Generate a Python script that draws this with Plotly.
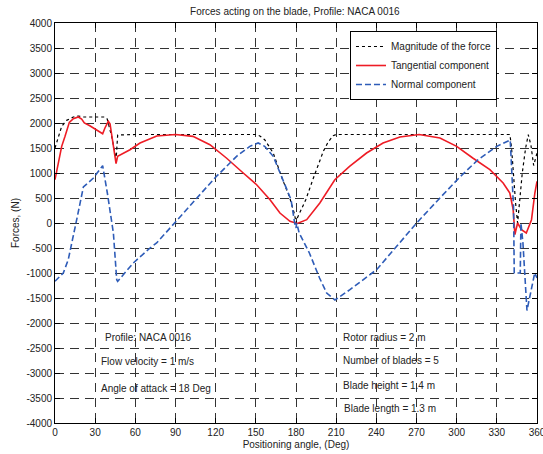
import plotly.graph_objects as go

# ---------------- data ----------------
mag_angle = [0, 2.5, 5, 8.7, 13.7, 17.4, 21, 30, 37, 39, 42.3, 44.8, 45.6, 46.8, 60,
             150.5, 153, 156.6, 160, 163, 170, 175, 179, 180, 181, 187.3, 193, 197, 200.4,
             204, 207.8, 210, 339.8, 341, 342.3, 344, 345.5, 347, 349, 351.5, 353.5, 355.5,
             357.5, 360]
mag_force = [1500, 1733, 1933, 2053, 2120, 2140, 2120, 2120, 2120, 2080, 1733, 1400, 1250, 1760, 1770,
             1770, 1740, 1666, 1530, 1400, 866, 533, 166, 0, 100, 466, 900, 1200, 1433,
             1620, 1746, 1770, 1770, 1500, 1000, 400, 0, 400, 1000, 1500, 1766, 1550,
             1150, 1400]

tan_angle = [0, 2.5, 5, 7.5, 10.7, 13.7, 17.4, 19.9, 21.9, 26, 31, 35.6, 37.3, 39.8, 41.1, 43.1,
             44.8, 45.6, 46.8, 56, 63.5, 71, 76, 90, 103, 115.7, 128, 140.6, 150.6, 160.6, 168,
             175.5, 181, 188, 197.8, 209, 220, 232.7, 245, 257.6, 272, 287.5, 300, 312, 324.8,
             334.7, 339.7, 342.2, 343.5, 345.5, 348.4, 352, 355.9, 358.4, 360]
tan_force = [866, 1233, 1533, 1733, 2013, 2086, 2120, 2080, 2000, 1946, 1866, 1786, 1900, 2033, 1986, 1666,
             1333, 1186, 1333, 1466, 1600, 1690, 1740, 1770, 1733, 1566, 1300, 1000, 766, 466, 200,
             33, -10, 66, 400, 866, 1133, 1400, 1600, 1720, 1770, 1700, 1533, 1300, 1066,
             800, 600, 266, -233, 0, -133, -200, 66, 600, 833]

nor_angle = [0, 6.2, 9.9, 13.2, 16.2, 21.2, 28.7, 35.6, 39.1, 43.6, 46.1, 46.8, 58.5, 71, 75.9,
             89.3, 103, 119.4, 135.6, 145.5, 151.7, 156.6, 163, 170, 176.3, 179, 180, 180.5,
             182.4, 190, 197.6, 202.9, 209.1, 220.3, 240.2, 255.2, 270.1, 287.5, 302.4, 316,
             330, 340, 342.5, 343, 347.5, 348, 349.5, 352.5, 358.3, 360]
nor_force = [-1166, -1000, -733, -333, 66, 720, 900, 1146, 600, -200, -1133, -1166, -800, -500, -400,
             0, 400, 900, 1333, 1533, 1600, 1533, 1333, 866, 466, 0, -100, 0,
             -200, -600, -1100, -1400, -1540, -1333, -933, -466, 0, 500, 920, 1266,
             1533, 1660, 300, -1000, -1000, 0, -400, -1750, -1000, -1100]

x_ticks = list(range(0, 361, 30))
y_ticks = list(range(-4000, 4001, 500))

notes_left = ["Profile: NACA 0016", "Flow velocity = 1 m/s", "Angle of attack = 18 Deg"]
notes_left_x = [36.2, 32.9, 32.9]
notes_left_y = [-2280, -2767, -3307]
notes_right = ["Rotor radius = 2 m", "Number of blades = 5", "Blade height = 1.4 m", "Blade length = 1.3 m"]
notes_right_x = [213.4, 213.4, 213.8, 214.6]
notes_right_y = [-2280, -2747, -3240, -3707]

FONT = "Liberation Sans, Arial, sans-serif"

fig = go.Figure()
fig.add_trace(go.Scatter(x=mag_angle, y=mag_force, mode="lines", name="Magnitude of the force",
                         line=dict(color="black", width=1.2, dash="dot")))
fig.add_trace(go.Scatter(x=tan_angle, y=tan_force, mode="lines", name="Tangential component",
                         line=dict(color="#ee1c25", width=1.6)))
fig.add_trace(go.Scatter(x=nor_angle, y=nor_force, mode="lines", name="Normal component",
                         line=dict(color="#2e5cb8", width=1.6, dash="6px,3px")))

annotations = []
for t, x, y in zip(notes_left + notes_right, notes_left_x + notes_right_x, notes_left_y + notes_right_y):
    annotations.append(dict(text=t, x=x, y=y, xref="x", yref="y", xanchor="left", yanchor="middle",
                            showarrow=False, font=dict(family=FONT, size=10, color="#222")))

axis_common = dict(showline=True, linecolor="black", linewidth=1, mirror="allticks",
                   ticks="inside", ticklen=5, tickcolor="black", showgrid=True,
                   gridcolor="#333", gridwidth=1, griddash="9px,6px", zeroline=False,
                   ticklabeloverflow="allow",
                   tickfont=dict(family=FONT, size=10, color="#222"))

fig.update_layout(
    width=543, height=454,
    margin=dict(l=55, r=6, t=23, b=31),
    paper_bgcolor="white", plot_bgcolor="white",
    font=dict(family=FONT, size=10, color="#222"),
    title=dict(text="Forces acting on the blade, Profile: NACA 0016", x=0.543, xanchor="center",
               y=0.974, yanchor="middle", font=dict(family=FONT, size=10, color="#222")),
    xaxis=dict(range=[0, 360], tickvals=x_ticks, ticktext=[str(v) for v in x_ticks],
               title=dict(text="Positioning angle, (Deg)", standoff=3,
                          font=dict(family=FONT, size=10, color="#222")),
               automargin=False, **axis_common),
    yaxis=dict(range=[-4000, 4000], tickvals=y_ticks, ticktext=[str(v) for v in y_ticks],
               title=dict(text="Forces, (N)", standoff=4,
                          font=dict(family=FONT, size=10, color="#222")),
               automargin=False, **axis_common),
    legend=dict(x=0.612, y=0.98, xanchor="left", yanchor="top", bgcolor="white",
                bordercolor="black", borderwidth=1, font=dict(family=FONT, size=10, color="#222"),
                tracegroupgap=0),
    annotations=annotations,
    showlegend=True,
)

fig.write_html("out.html", config={"displayModeBar": False},
               post_script="document.body.style.margin='0';document.body.style.overflow='hidden';")
